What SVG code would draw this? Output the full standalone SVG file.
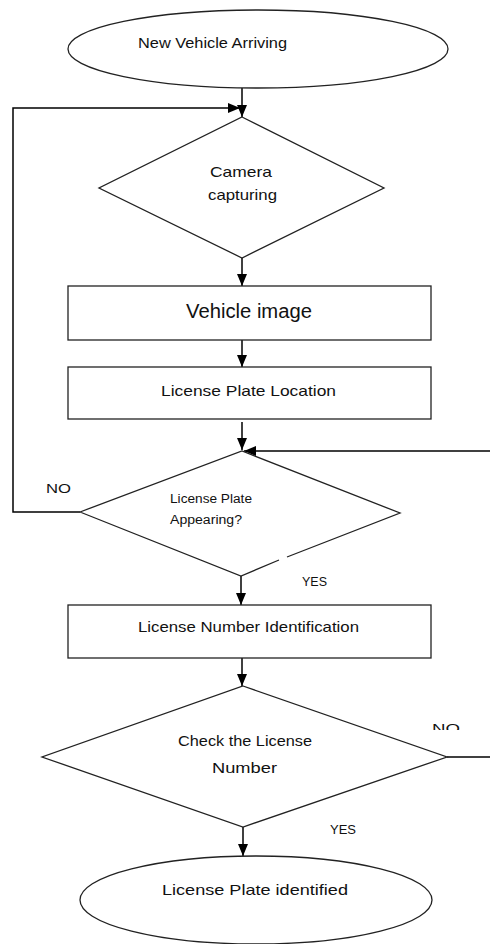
<svg xmlns="http://www.w3.org/2000/svg" width="490" height="944" viewBox="0 0 490 944">
<style>
.s{fill:#fff;stroke:#222;stroke-width:1.3}
.c{fill:none;stroke:#000;stroke-width:1.5}
text{font-family:"Liberation Sans",Arial,sans-serif;fill:#111}
</style>
<defs>
<marker id="ah2" viewBox="0 0 12 10" refX="12" refY="5" markerWidth="12" markerHeight="12" markerUnits="userSpaceOnUse" orient="auto">
<path d="M0,0 L12,5 L0,10 Z" fill="#000"/>
</marker>
<clipPath id="noclip"><rect x="420" y="700" width="60" height="30"/></clipPath>
</defs>
<g id="connectors">
<line class="c" x1="242" y1="88" x2="242" y2="117" marker-end="url(#ah2)"/>
<polyline class="c" points="80,512 13,512 13,108 240,108" marker-end="url(#ah2)"/>
<line class="c" x1="242" y1="258" x2="242" y2="286" marker-end="url(#ah2)"/>
<line class="c" x1="242" y1="340" x2="242" y2="367" marker-end="url(#ah2)"/>
<line class="c" x1="242" y1="422" x2="242" y2="450" marker-end="url(#ah2)"/>
<line class="c" x1="490" y1="451" x2="244" y2="451" marker-end="url(#ah2)"/>
<line class="c" x1="241" y1="576" x2="241" y2="605" marker-end="url(#ah2)"/>
<line class="c" x1="242" y1="658" x2="242" y2="686" marker-end="url(#ah2)"/>
<line class="c" x1="447" y1="757" x2="490" y2="757"/>
<line class="c" x1="243" y1="827" x2="243" y2="856" marker-end="url(#ah2)"/>
<text x="46" y="493" font-size="13" textLength="25" lengthAdjust="spacingAndGlyphs">NO</text>
<text x="302" y="586" font-size="13" textLength="25" lengthAdjust="spacingAndGlyphs">YES</text>
<text x="432" y="733" font-size="13" textLength="28" lengthAdjust="spacingAndGlyphs" clip-path="url(#noclip)">NO</text>
<text x="330" y="834" font-size="13" textLength="26" lengthAdjust="spacingAndGlyphs">YES</text>
</g>
<g id="start">
<ellipse class="s" cx="258" cy="49" rx="190" ry="39"/>
<text x="138" y="48" font-size="15" textLength="149" lengthAdjust="spacingAndGlyphs">New Vehicle Arriving</text>
</g>
<g id="camera">
<polygon class="s" points="242,117 384,188 242,258 99,188"/>
<text x="210" y="177" font-size="15" textLength="62" lengthAdjust="spacingAndGlyphs">Camera</text>
<text x="208" y="200" font-size="15" textLength="69" lengthAdjust="spacingAndGlyphs">capturing</text>
</g>
<g id="vehicle-image">
<rect class="s" x="68" y="286" width="363" height="54"/>
<text x="186" y="318" font-size="20" textLength="126" lengthAdjust="spacingAndGlyphs">Vehicle image</text>
</g>
<g id="plate-location">
<rect class="s" x="68" y="367" width="363" height="52"/>
<text x="161" y="396" font-size="15" textLength="175" lengthAdjust="spacingAndGlyphs">License Plate Location</text>
</g>
<g id="plate-appearing">
<polygon points="242,451 400,513 241,576 80,512" fill="#fff" stroke="none"/>
<path d="M80,512 L242,451 L400,513 L287,557 M279,560 L241,576 L80,512" fill="none" stroke="#222" stroke-width="1.3"/>
<text x="170" y="503" font-size="12" textLength="82" lengthAdjust="spacingAndGlyphs">License Plate</text>
<text x="170" y="524" font-size="12" textLength="72" lengthAdjust="spacingAndGlyphs">Appearing?</text>
</g>
<g id="number-identification">
<rect class="s" x="68" y="605" width="363" height="53"/>
<text x="138" y="632" font-size="15" textLength="221" lengthAdjust="spacingAndGlyphs">License Number Identification</text>
</g>
<g id="check-number">
<polygon class="s" points="243,686 447,757 243,827 42,757"/>
<text x="178" y="746" font-size="15" textLength="134" lengthAdjust="spacingAndGlyphs">Check the License</text>
<text x="212" y="773" font-size="15" textLength="65" lengthAdjust="spacingAndGlyphs">Number</text>
</g>
<g id="end">
<ellipse class="s" cx="256" cy="900" rx="176" ry="44"/>
<text x="162" y="895" font-size="15" textLength="186" lengthAdjust="spacingAndGlyphs">License Plate identified</text>
</g>
</svg>
